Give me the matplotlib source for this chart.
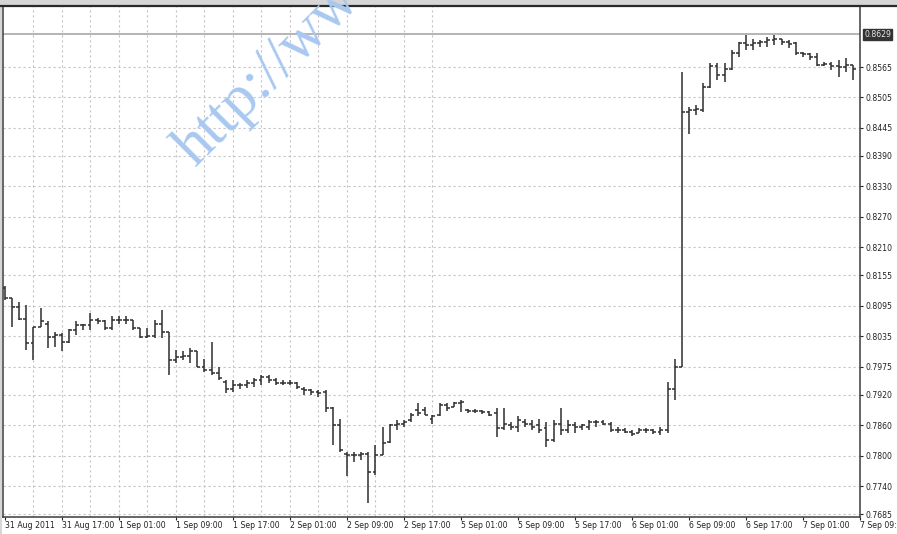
import matplotlib
matplotlib.use('Agg')
import matplotlib.pyplot as plt
from matplotlib.patches import Rectangle
from matplotlib.lines import Line2D

# hourly OHLC bars, 31 Aug 2011 09:00 .. 7 Sep 2011 08:00 (weekend skipped)
opens = [0.8130, 0.8110, 0.8092, 0.8068, 0.8022, 0.8054, 0.8060, 0.8034, 0.8037, 0.8024,
         0.8047, 0.8057, 0.8057, 0.8067, 0.8064, 0.8051, 0.8067, 0.8067, 0.8067, 0.8051,
         0.8034, 0.8035, 0.8060, 0.8044, 0.7988, 0.7995, 0.7996, 0.8005, 0.7975, 0.7969,
         0.7962, 0.7945, 0.7932, 0.7939, 0.7939, 0.7942, 0.7949, 0.7955, 0.7949, 0.7943,
         0.7943, 0.7942, 0.7932, 0.7929, 0.7926, 0.7926, 0.7893, 0.7860, 0.7804, 0.7801,
         0.7801, 0.7804, 0.7768, 0.7801, 0.7827, 0.7860, 0.7863, 0.7870, 0.7890, 0.7890,
         0.7873, 0.7880, 0.7900, 0.7896, 0.7903, 0.7890, 0.7888, 0.7888, 0.7886, 0.7883,
         0.7854, 0.7860, 0.7857, 0.7867, 0.7863, 0.7860, 0.7854, 0.7831, 0.7863, 0.7850,
         0.7860, 0.7857, 0.7857, 0.7867, 0.7867, 0.7863, 0.7850, 0.7850, 0.7847, 0.7844,
         0.7850, 0.7850, 0.7847, 0.7850, 0.7932, 0.7975, 0.8477, 0.8480, 0.8480, 0.8526,
         0.8566, 0.8549, 0.8562, 0.8592, 0.8612, 0.8608, 0.8612, 0.8615, 0.8618, 0.8621,
         0.8615, 0.8612, 0.8592, 0.8590, 0.8585, 0.8569, 0.8570, 0.8566, 0.8565, 0.8568]
highs = [0.8133, 0.8111, 0.8103, 0.8096, 0.8054, 0.8090, 0.8064, 0.8044, 0.8041, 0.8049,
         0.8064, 0.8060, 0.8080, 0.8070, 0.8067, 0.8074, 0.8074, 0.8074, 0.8067, 0.8051,
         0.8051, 0.8067, 0.8087, 0.8044, 0.8008, 0.8005, 0.8011, 0.8005, 0.7991, 0.8024,
         0.7975, 0.7949, 0.7949, 0.7942, 0.7949, 0.7952, 0.7959, 0.7959, 0.7952, 0.7949,
         0.7949, 0.7945, 0.7936, 0.7932, 0.7929, 0.7929, 0.7896, 0.7873, 0.7808, 0.7808,
         0.7808, 0.7808, 0.7821, 0.7857, 0.7863, 0.7870, 0.7870, 0.7883, 0.7903, 0.7896,
         0.7880, 0.7903, 0.7904, 0.7906, 0.7909, 0.7891, 0.7891, 0.7890, 0.7888, 0.7893,
         0.7893, 0.7867, 0.7877, 0.7873, 0.7870, 0.7873, 0.7867, 0.7870, 0.7893, 0.7870,
         0.7867, 0.7863, 0.7870, 0.7870, 0.7870, 0.7867, 0.7857, 0.7854, 0.7850, 0.7854,
         0.7854, 0.7852, 0.7856, 0.7945, 0.7991, 0.8556, 0.8487, 0.8490, 0.8533, 0.8572,
         0.8572, 0.8572, 0.8598, 0.8615, 0.8628, 0.8621, 0.8618, 0.8625, 0.8628, 0.8621,
         0.8618, 0.8615, 0.8595, 0.8592, 0.8592, 0.8575, 0.8575, 0.8579, 0.8582, 0.8569]
lows = [0.8106, 0.8054, 0.8067, 0.8008, 0.7989, 0.8054, 0.8011, 0.8014, 0.8005, 0.8021,
        0.8037, 0.8047, 0.8047, 0.8060, 0.8047, 0.8047, 0.8060, 0.8060, 0.8047, 0.8031,
        0.8031, 0.8031, 0.8031, 0.7959, 0.7982, 0.7988, 0.7982, 0.7975, 0.7965, 0.7959,
        0.7949, 0.7923, 0.7926, 0.7932, 0.7934, 0.7936, 0.7939, 0.7942, 0.7939, 0.7939,
        0.7939, 0.7932, 0.7919, 0.7919, 0.7916, 0.7886, 0.7821, 0.7808, 0.7760, 0.7788,
        0.7791, 0.7706, 0.7762, 0.7801, 0.7824, 0.7850, 0.7857, 0.7867, 0.7877, 0.7880,
        0.7863, 0.7877, 0.7887, 0.7896, 0.7886, 0.7883, 0.7883, 0.7882, 0.7877, 0.7837,
        0.7850, 0.7850, 0.7847, 0.7857, 0.7850, 0.7844, 0.7817, 0.7827, 0.7840, 0.7844,
        0.7844, 0.7850, 0.7850, 0.7857, 0.7860, 0.7847, 0.7844, 0.7844, 0.7839, 0.7844,
        0.7844, 0.7842, 0.7840, 0.7844, 0.7909, 0.7975, 0.8434, 0.8470, 0.8477, 0.8523,
        0.8539, 0.8536, 0.8559, 0.8585, 0.8598, 0.8598, 0.8605, 0.8605, 0.8608, 0.8608,
        0.8602, 0.8589, 0.8585, 0.8579, 0.8566, 0.8566, 0.8559, 0.8546, 0.8556, 0.8539]
closes = [0.8110, 0.8093, 0.8068, 0.8022, 0.8054, 0.8064, 0.8034, 0.8037, 0.8024, 0.8047,
          0.8057, 0.8057, 0.8067, 0.8064, 0.8051, 0.8067, 0.8067, 0.8067, 0.8051, 0.8034,
          0.8035, 0.8060, 0.8044, 0.7988, 0.7995, 0.7996, 0.8005, 0.7975, 0.7969, 0.7962,
          0.7952, 0.7932, 0.7939, 0.7939, 0.7942, 0.7949, 0.7955, 0.7949, 0.7943, 0.7943,
          0.7943, 0.7936, 0.7929, 0.7926, 0.7923, 0.7893, 0.7860, 0.7811, 0.7801, 0.7801,
          0.7804, 0.7768, 0.7801, 0.7824, 0.7860, 0.7863, 0.7867, 0.7880, 0.7883, 0.7880,
          0.7877, 0.7900, 0.7893, 0.7903, 0.7905, 0.7888, 0.7888, 0.7886, 0.7880, 0.7854,
          0.7863, 0.7857, 0.7870, 0.7863, 0.7857, 0.7850, 0.7831, 0.7863, 0.7850, 0.7860,
          0.7857, 0.7860, 0.7867, 0.7867, 0.7863, 0.7850, 0.7850, 0.7847, 0.7842, 0.7850,
          0.7850, 0.7847, 0.7850, 0.7932, 0.7975, 0.8477, 0.8480, 0.8482, 0.8526, 0.8566,
          0.8549, 0.8562, 0.8592, 0.8612, 0.8608, 0.8612, 0.8615, 0.8618, 0.8621, 0.8615,
          0.8610, 0.8592, 0.8590, 0.8585, 0.8569, 0.8570, 0.8566, 0.8565, 0.8568, 0.8562]

time_labels = ['31 Aug 2011', '31 Aug 17:00', '1 Sep 01:00', '1 Sep 09:00', '1 Sep 17:00',
               '2 Sep 01:00', '2 Sep 09:00', '2 Sep 17:00', '5 Sep 01:00', '5 Sep 09:00',
               '5 Sep 17:00', '6 Sep 01:00', '6 Sep 09:00', '6 Sep 17:00', '7 Sep 01:00',
               '7 Sep 09:00']
price_labels = ['0.7685', '0.7740', '0.7800', '0.7860', '0.7920', '0.7975', '0.8035', '0.8095',
                '0.8155', '0.8210', '0.8270', '0.8330', '0.8390', '0.8445', '0.8505', '0.8565']
price_line = 0.8629
watermark = 'http://www.'

W, H = 897, 534
fig = plt.figure(figsize=(W / 100, H / 100), dpi=100)
fig.patch.set_facecolor('white')

# window border (grey strip top/left, dark rule under it)
fig.patches.append(Rectangle((0, 1 - 5 / H), 1, 5 / H, transform=fig.transFigure,
                             fc='#d6d6d6', ec='none', zorder=0))
fig.patches.append(Rectangle((0, 0), 2 / W, 1, transform=fig.transFigure,
                             fc='#d6d6d6', ec='none', zorder=0))
fig.lines.append(Line2D([0, 1], [1 - 5.5 / H, 1 - 5.5 / H], transform=fig.transFigure,
                        color='#2a2a2a', lw=1.6, zorder=5))

ax = fig.add_axes([3 / W, 1 - 517 / H, 857 / W, 511 / H])

bars = range(len(opens))
bar_col = '#2e2e2e'
ax.vlines(bars, lows, highs, color=bar_col, lw=1.1, zorder=3)
ax.hlines(opens, [i - 0.42 for i in bars], bars, color=bar_col, lw=1.1, zorder=3)
ax.hlines(closes, bars, [i + 0.42 for i in bars], color=bar_col, lw=1.1, zorder=3)

# grid: horizontal at each price label, vertical every 4 bars
grid_kw = dict(color='#c4c4c4', lw=0.8, linestyle=(0, (2, 2.5)), zorder=1)
for p in price_labels:
    ax.axhline(float(p), **grid_kw)
for k in range(4, 4 * len(time_labels), 4):
    ax.axvline(k, **grid_kw)

ax.axhline(price_line, color='#b4b4b4', lw=1.4, zorder=2)

ax.set_xlim(-0.28, 119.58)
ax.set_ylim(0.76791, 0.86851)

ax.set_xticks([8 * i for i in range(len(time_labels))])
ax.set_xticklabels(time_labels)
for lab in ax.get_xticklabels():
    lab.set_horizontalalignment('left')
ax.tick_params(axis='x', direction='out', length=2.5, width=0.8, pad=0.5,
               labelsize=5.6, colors='#222222')

ax.yaxis.tick_right()
ax.set_yticks([float(p) for p in price_labels])
ax.set_yticklabels(price_labels)
ax.tick_params(axis='y', direction='out', length=2.5, width=0.8, pad=1.5,
               labelsize=5.6, colors='#222222')

for side in ['left', 'right', 'bottom']:
    ax.spines[side].set_color('#3c3c3c')
    ax.spines[side].set_linewidth(1.1)
ax.spines['top'].set_visible(False)

ax.annotate(str(price_line), xy=(1, price_line), xycoords=('axes fraction', 'data'),
            xytext=(3, 0), textcoords='offset points', va='center', ha='left',
            fontsize=5.6, color='#e8e8e8',
            bbox=dict(boxstyle='square,pad=0.15', fc='#333333', ec='#333333'))

fig.text(195 / W, 1 - 168 / H, watermark, rotation=45, rotation_mode='anchor',
         ha='left', va='baseline', fontsize=44, family='Liberation Serif',
         color='#a9c8f0', zorder=10)

fig.savefig('out.png', dpi=100, facecolor='white')
